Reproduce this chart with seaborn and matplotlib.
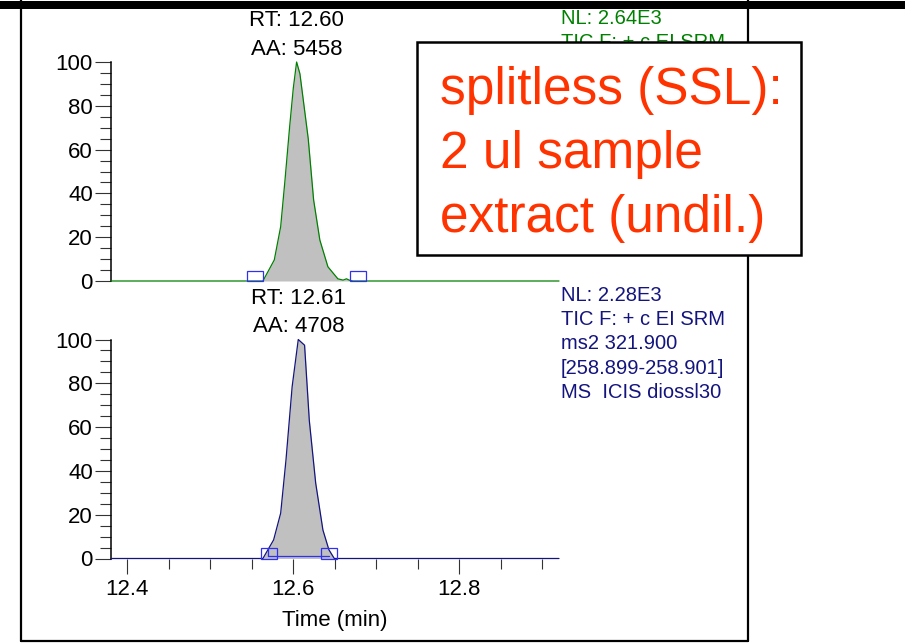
import matplotlib
matplotlib.use("Agg")
import matplotlib.pyplot as plt
from matplotlib.patches import Rectangle
from matplotlib.lines import Line2D
from matplotlib.ticker import FixedLocator, FixedFormatter, MultipleLocator
import seaborn as sns

# ---- chromatogram data (relative abundance, %) ----
upper_time = [12.3804, 12.5634, 12.5771, 12.5848, 12.5900, 12.5955, 12.6000, 12.6040,
              12.6080, 12.6180, 12.6245, 12.6320, 12.6417, 12.6537, 12.6600, 12.6640,
              12.6680, 12.6720, 12.9201]
upper_rel = [0, 0, 9.6, 24.8, 46, 70, 88, 100, 94.6, 65, 37, 18.7, 6.5, 1.0, 0.4, 1.0,
             0.3, 0, 0]

lower_time = [12.3804, 12.5634, 12.5763, 12.5848, 12.5912, 12.5986, 12.6060, 12.6136,
              12.6193, 12.6270, 12.6357, 12.6429, 12.6494, 12.9201]
lower_rel = [0, 0, 8.5, 20.7, 45, 78.4, 100, 97.4, 63, 34.4, 13, 4, 0, 0]

# peak annotations
upper_area = 5458
lower_area = 4708
upper_marks = [12.5541, 12.6776]      # peak start / end markers
lower_marks = [12.5709, 12.6432]
lower_baseline = [12.5699, 12.6431]   # integration baseline end points
baseline_level = 1.2

upper_info = ["NL: 2.64E3", "TIC F: + c EI SRM"]
lower_info = ["NL: 2.28E3", "TIC F: + c EI SRM", "ms2 321.900",
              "[258.899-258.901]", "MS  ICIS diossl30"]
note_lines = ["splitless (SSL):", "2 ul sample", "extract (undil.)"]

x_major = [12.4, 12.6, 12.8]
x_major_labels = ["12.4", "12.6", "12.8"]
x_minor = [12.45, 12.5, 12.55, 12.65, 12.7, 12.75, 12.85, 12.9]
y_major = [0, 20, 40, 60, 80, 100]
x_range = (12.3804, 12.9201)

GREEN = "#008000"
NAVY = "#14147F"
MARK = "#3030F0"
FILL = "#C0C0C0"
RED = "#FF3300"

sns.set_theme(style="white")
plt.rcParams["font.family"] = ["Liberation Sans", "DejaVu Sans"]
plt.rcParams["text.color"] = "black"
plt.rcParams["axes.labelcolor"] = "black"
plt.rcParams["xtick.color"] = "black"
plt.rcParams["ytick.color"] = "black"

W, H = 910, 643
fig = plt.figure(figsize=(W / 100, H / 100), dpi=100)
fig.patch.set_facecolor("white")


def fx(x):
    return x / W


def fy(y):
    return 1 - y / H


ax_top = fig.add_axes([fx(111), fy(281), 448 / W, 219 / H])
ax_bot = fig.add_axes([fx(111), fy(558.5), 448 / W, 219 / H])


def style_axes(ax, show_x):
    ax.set_xlim(*x_range)
    ax.set_ylim(0, 100)
    ax.set_facecolor("none")
    ax.grid(False)
    for s in ["top", "right", "bottom"]:
        ax.spines[s].set_visible(False)
    ax.spines["left"].set_color("black")
    ax.spines["left"].set_linewidth(1.1)
    ax.yaxis.set_major_locator(FixedLocator(y_major))
    ax.yaxis.set_minor_locator(MultipleLocator(5))
    ax.tick_params(axis="y", which="major", direction="out", length=11.5, width=0.8,
                   pad=1.5, labelsize=16, color="#333333", labelcolor="black", left=True)
    ax.tick_params(axis="y", which="minor", direction="out", length=7.9, width=0.8,
                   color="#333333", left=True)
    ax.set_ylabel("")
    if show_x:
        ax.xaxis.set_major_locator(FixedLocator(x_major))
        ax.xaxis.set_major_formatter(FixedFormatter(x_major_labels))
        ax.xaxis.set_minor_locator(FixedLocator(x_minor))
        ax.tick_params(axis="x", which="major", direction="out", length=10.8, width=0.8,
                       pad=4, labelsize=16, color="#333333", labelcolor="black", bottom=True)
        ax.tick_params(axis="x", which="minor", direction="out", length=7.2, width=0.8,
                       color="#333333", bottom=True)
        ax.set_xlabel("Time (min)", fontsize=16, labelpad=7, color="black")
    else:
        ax.tick_params(axis="x", which="both", bottom=False, labelbottom=False)
        ax.set_xlabel("")


def draw_trace(ax, t, rel, color):
    ax.fill_between(t, rel, 0, color=FILL, linewidth=0, zorder=2)
    sns.lineplot(x=t, y=rel, ax=ax, color=color, linewidth=0.9, zorder=3,
                 clip_on=False, legend=False)


def draw_marks(ax, marks, w=0.019, h=4.6):
    for m in marks:
        ax.add_patch(Rectangle((m - w / 2, 0), w, h, fill=False, edgecolor=MARK,
                               linewidth=0.9, zorder=4, clip_on=False))


def label_peak(ax, t, rel, area):
    i = max(range(len(rel)), key=lambda k: rel[k])
    apex_t = t[i]
    ax.annotate(f"RT: {apex_t:.2f}", xy=(apex_t, rel[i]), xytext=(0, 36),
                textcoords="offset pixels", ha="center", va="baseline",
                fontsize=16, color="black", annotation_clip=False)
    ax.annotate(f"AA: {area}", xy=(apex_t, rel[i]), xytext=(0, 7),
                textcoords="offset pixels", ha="center", va="baseline",
                fontsize=16, color="black", annotation_clip=False)


draw_trace(ax_top, upper_time, upper_rel, GREEN)
draw_marks(ax_top, upper_marks)
label_peak(ax_top, upper_time, upper_rel, upper_area)
style_axes(ax_top, False)

draw_trace(ax_bot, lower_time, lower_rel, NAVY)
draw_marks(ax_bot, lower_marks)
ax_bot.plot(lower_baseline, [baseline_level] * 2, color=MARK, linewidth=0.9, zorder=4)
ax_bot.plot([lower_baseline[0]] * 2, [baseline_level, 4.6], color=MARK, linewidth=0.9, zorder=4)
label_peak(ax_bot, lower_time, lower_rel, lower_area)
style_axes(ax_bot, True)

# scan information text
for k, line in enumerate(upper_info):
    fig.text(fx(561), fy(24 + 24.3 * k), line, color=GREEN, fontsize=14.5,
             ha="left", va="baseline", zorder=4)
for k, line in enumerate(lower_info):
    fig.text(fx(561), fy(300.7 + 24.3 * k), line, color=NAVY, fontsize=14.5,
             ha="left", va="baseline", zorder=4)

# page frame and header bar
frame_kw = dict(transform=fig.transFigure, color="black", linewidth=1.6, zorder=2)
fig.add_artist(Line2D([fx(21), fx(21)], [fy(0), fy(641)], **frame_kw))
fig.add_artist(Line2D([fx(21), fx(748)], [fy(641), fy(641)], **frame_kw))
fig.add_artist(Line2D([fx(748), fx(748)], [fy(0), fy(641)], **frame_kw))
fig.add_artist(Rectangle((0, fy(8.5)), fx(905), 7.5 / H, transform=fig.transFigure,
                         facecolor="black", edgecolor="none", zorder=10))

# note box
fig.add_artist(Rectangle((fx(417), fy(255)), fx(801) - fx(417), (255 - 41.7) / H,
                         transform=fig.transFigure, facecolor="white",
                         edgecolor="black", linewidth=1.8, zorder=5))
for k, line in enumerate(note_lines):
    fig.text(fx(440), fy(104 + 64 * k), line, color=RED, fontsize=37,
             ha="left", va="baseline", zorder=6)

fig.savefig("out.png", dpi=100)
